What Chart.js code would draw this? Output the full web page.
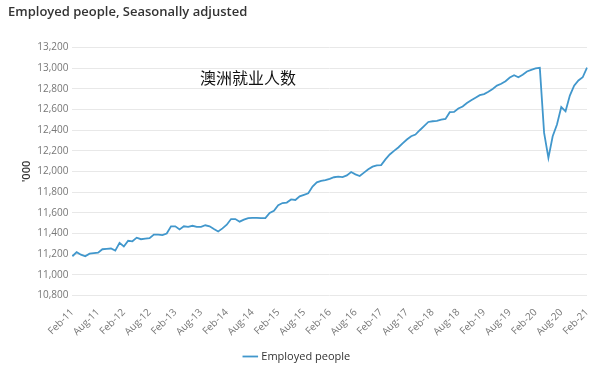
<!DOCTYPE html>
<html>
<head>
<meta charset="utf-8">
<script src="https://cdn.jsdelivr.net/npm/chart.js@4/dist/chart.umd.min.js"></script>
<style>
  body { margin: 0; background: #fff; }
  #wrap { position: relative; width: 602px; height: 377px; }
  #note { position: absolute; left: 200px; top: 65px; font-family: "Noto Sans CJK SC", sans-serif; font-size: 16px; color: #111; }
</style>
</head>
<body>
<div id="wrap">
  <canvas id="myChart" width="602" height="377"></canvas>
  <div id="note">澳洲就业人数</div>
</div>
<script>
let monthNames = ["Jan", "Feb", "Mar", "Apr", "May", "Jun", "Jul", "Aug", "Sep", "Oct", "Nov", "Dec"];
let startYear = 2011;
let startMonth = 1; // Feb
let employed = [
  11180, 11220, 11195, 11180, 11205, 11210, 11215, 11248, 11252, 11255, 11235, 11310,
  11275, 11330, 11325, 11360, 11345, 11350, 11355, 11390, 11390, 11385, 11400, 11470,
  11470, 11440, 11470, 11465, 11475, 11465, 11465, 11480, 11470, 11443, 11420, 11450,
  11485, 11540, 11540, 11515, 11535, 11550, 11552, 11552, 11550, 11550, 11600, 11620,
  11675, 11695, 11700, 11730, 11725, 11760, 11775, 11790, 11855, 11895, 11910, 11918,
  11930, 11945, 11950, 11947, 11963, 11995, 11973, 11957, 11990, 12022, 12047, 12060,
  12062, 12118, 12165, 12200, 12233, 12272, 12310, 12342, 12358, 12400, 12440, 12480,
  12487, 12490, 12503, 12510, 12575, 12578, 12610, 12630, 12663, 12690, 12715, 12740,
  12750, 12773, 12800, 12832, 12850, 12875, 12910, 12933, 12913, 12937, 12969, 12985,
  12998, 13004, 12374, 12133, 12342, 12455, 12625, 12583, 12735, 12832, 12882, 12913,
  13007
];

let labels = [];
for (let i = 0; i < employed.length; i++) {
  let m = (startMonth + i) % 12;
  let y = startYear + Math.floor((startMonth + i) / 12);
  labels.push(monthNames[m] + "-" + String(y).slice(2));
}

let ctx = document.getElementById("myChart").getContext('2d');

let chart = new Chart(ctx, {
  type: 'line',
  data: {
    labels: labels,
    datasets: [{
      label: "Employed people",
      data: employed,
      borderColor: '#4197cc',
      backgroundColor: '#4197cc',
      borderWidth: 1.8,
      pointRadius: 0,
      tension: 0
    }]
  },
  options: {
    responsive: false,
    animation: false,
    layout: { padding: { left: 8, right: 15, top: 2, bottom: 5 } },
    plugins: {
      title: {
        display: true,
        text: "Employed people, Seasonally adjusted",
        align: 'start',
        color: '#333',
        font: { family: "Open Sans", size: 13, weight: '600' },
        padding: { top: 2, bottom: 28 }
      },
      legend: {
        position: 'bottom',
        labels: {
          usePointStyle: true,
          pointStyle: 'line',
          boxWidth: 12,
          color: '#333',
          font: { family: "Open Sans", size: 11 }
        }
      }
    },
    scales: {
      x: {
        grid: { display: false },
        border: { display: false },
        ticks: {
          autoSkip: false,
          maxRotation: 45,
          minRotation: 45,
          color: '#777',
          font: { family: "Open Sans", size: 10 },
          callback: function(v, i) { return i % 6 === 0 ? labels[i] : null; }
        }
      },
      y: {
        min: 10800,
        max: 13200,
        grid: { color: '#e8e8e8', drawTicks: false },
        border: { display: false },
        ticks: {
          stepSize: 200,
          padding: 4,
          color: '#777',
          font: { family: "Open Sans", size: 10 },
          callback: function(v) { return v.toLocaleString('en-US'); }
        },
        title: {
          display: true,
          text: "'000",
          color: '#333',
          padding: { top: 12, bottom: 0 },
          font: { family: "Open Sans", size: 11, weight: '600' }
        }
      }
    }
  }
});
</script>
</body>
</html>
